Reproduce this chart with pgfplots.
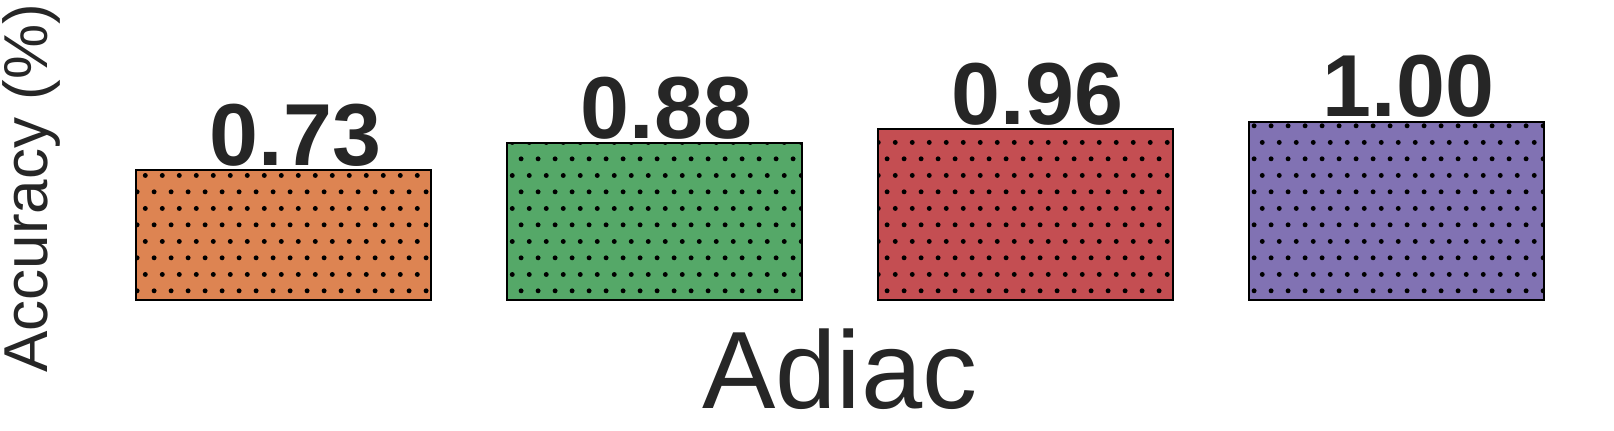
\documentclass[border=0pt]{standalone}
\usepackage{pgfplots}
\pgfplotsset{compat=1.18}
\usepackage{fontspec}
\setmainfont{Liberation Sans}
\usetikzlibrary{patterns.meta}
\definecolor{txt}{HTML}{262626}
\definecolor{c1}{HTML}{DD8452}
\definecolor{c2}{HTML}{55A868}
\definecolor{c3}{HTML}{C44E52}
\definecolor{c4}{HTML}{8172B3}
\tikzdeclarepattern{
  name=offsetdots,
  type=uncolored,
  bottom left={(0bp,0bp)},
  top right={(16.67bp,33.33bp)},
  tile size={(16.67bp,33.33bp)},
  code={
    \fill (4.17bp,8.33bp) circle (2.5bp);
    \fill (12.5bp,25bp) circle (2.5bp);
  }
}
\begin{document}
\begin{tikzpicture}
\begin{axis}[
  at={(98bp,131bp)}, anchor=south west,
  scale only axis,
  width=1484bp, height=300bp,
  xmin=-0.5, xmax=3.5, ymin=0, ymax=1.685,
  axis line style={draw=none},
  ticks=none,
  clip=false,
  ybar, bar width=295bp, bar shift=0pt,
  /pgf/number format/assume math mode=true,
  point meta=y,
  nodes near coords={\pgfmathprintnumber[fixed, fixed zerofill, precision=2]{\pgfplotspointmeta}},
  every node near coord/.append style={anchor=base, yshift=5bp, xshift=12bp, inner sep=0pt,
    text=txt, font=\fontsize{88bp}{100bp}\selectfont\bfseries},
  xlabel={Adiac},
  ylabel={Accuracy (\%)},
  xlabel style={at={(axis description cs:0.5,-0.363)}, anchor=base, inner sep=0pt,
    text=txt, font=\fontsize{110bp}{120bp}\selectfont},
  ylabel style={at={(axis description cs:-0.0337,0.372)}, anchor=base, rotate=0, inner sep=0pt,
    text=txt, font=\fontsize{62bp}{70bp}\selectfont},
  every axis plot/.append style={draw=black, line width=2bp},
]
\addplot[fill=c1, postaction={pattern=offsetdots, pattern color=black}] coordinates {(0,0.73)};
\addplot[fill=c2, postaction={pattern=offsetdots, pattern color=black}] coordinates {(1,0.88)};
\addplot[fill=c3, postaction={pattern=offsetdots, pattern color=black}] coordinates {(2,0.96)};
\addplot[fill=c4, postaction={pattern=offsetdots, pattern color=black}] coordinates {(3,1.00)};
\end{axis}
\pgfresetboundingbox
\useasboundingbox (0,0) rectangle (1614bp,431bp);
\end{tikzpicture}
\end{document}
